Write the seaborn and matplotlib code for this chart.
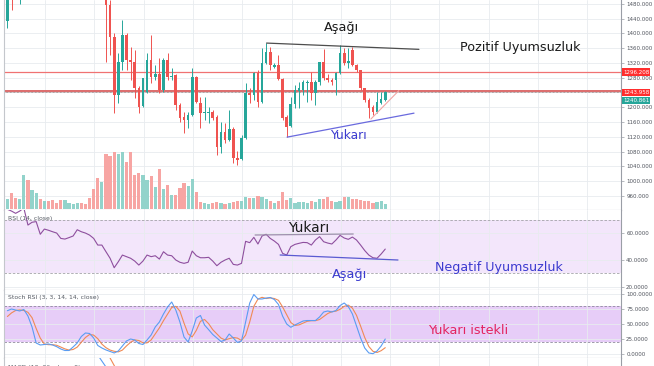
import matplotlib
matplotlib.use("Agg")
import matplotlib.pyplot as plt
import seaborn as sns
import numpy as np

sns.set_style("white")
plt.rcParams["font.family"] = ["DejaVu Sans"]

W, H = 654, 366
L, R = 4, 621

# daily candles (first ones sit above the visible range)
opens = [1434, 1520, 1530, 1505, 1535, 1570, 1550, 1565, 1580, 1555,
         1570, 1560, 1552, 1545, 1535, 1540, 1544, 1548, 1560, 1552,
         1545, 1530, 1512, 1500, 1515, 1477, 1390, 1233, 1323, 1396,
         1328, 1323, 1252, 1203, 1241, 1328, 1282, 1290, 1247, 1328,
         1282, 1287, 1206, 1174, 1165, 1179, 1282, 1211, 1184, 1184,
         1187, 1174, 1092, 1133, 1111, 1141, 1062, 1060, 1117, 1239,
         1233, 1293, 1214, 1320, 1350, 1309, 1315, 1277, 1174, 1149,
         1209, 1244, 1247, 1266, 1268, 1239, 1268, 1323, 1279, 1274,
         1274, 1293, 1347, 1320, 1355, 1315, 1301, 1252, 1220, 1201,
         1187, 1211, 1220]
highs = [1510, 1530, 1540, 1545, 1580, 1575, 1575, 1590, 1585, 1580,
         1575, 1565, 1556, 1550, 1545, 1548, 1552, 1565, 1562, 1555,
         1548, 1535, 1515, 1525, 1520, 1491, 1401, 1347, 1437, 1401,
         1363, 1355, 1258, 1279, 1347, 1396, 1315, 1334, 1334, 1347,
         1306, 1290, 1211, 1187, 1187, 1306, 1285, 1228, 1228, 1201,
         1193, 1179, 1160, 1157, 1193, 1146, 1081, 1125, 1266, 1252,
         1296, 1301, 1361, 1374, 1363, 1320, 1342, 1279, 1179, 1228,
         1260, 1268, 1274, 1274, 1296, 1274, 1323, 1358, 1290, 1279,
         1296, 1369, 1361, 1361, 1363, 1318, 1301, 1252, 1225, 1206,
         1241, 1241, 1244]
lows = [1414, 1464, 1500, 1480, 1525, 1540, 1545, 1555, 1545, 1550,
        1555, 1548, 1540, 1530, 1530, 1535, 1540, 1545, 1548, 1540,
        1525, 1505, 1495, 1496, 1323, 1342, 1184, 1211, 1301, 1301,
        1274, 1225, 1184, 1200, 1239, 1266, 1274, 1239, 1241, 1274,
        1274, 1193, 1160, 1130, 1144, 1177, 1211, 1144, 1165, 1157,
        1165, 1070, 1076, 1103, 1108, 1049, 1043, 1057, 1114, 1211,
        1220, 1201, 1211, 1318, 1301, 1306, 1274, 1165, 1119, 1146,
        1198, 1198, 1233, 1214, 1220, 1206, 1260, 1274, 1268, 1260,
        1233, 1290, 1315, 1306, 1312, 1296, 1247, 1214, 1171, 1179,
        1184, 1209, 1217]
closes = [1505, 1500, 1515, 1535, 1570, 1550, 1565, 1580, 1555, 1570,
          1560, 1552, 1545, 1535, 1540, 1544, 1548, 1560, 1552, 1545,
          1530, 1512, 1500, 1515, 1477, 1390, 1233, 1323, 1396, 1328,
          1323, 1252, 1201, 1279, 1328, 1282, 1290, 1247, 1328, 1282,
          1285, 1206, 1171, 1165, 1179, 1282, 1214, 1184, 1187, 1187,
          1171, 1092, 1133, 1111, 1141, 1062, 1057, 1117, 1239, 1233,
          1293, 1214, 1320, 1350, 1315, 1315, 1277, 1171, 1146, 1209,
          1247, 1252, 1268, 1268, 1239, 1268, 1323, 1279, 1274, 1268,
          1293, 1347, 1320, 1326, 1315, 1301, 1252, 1220, 1198, 1187,
          1214, 1222, 1240.861]
volume = [10, 16, 11, 10, 34, 29, 19, 16, 10, 8,
          8, 9, 6, 9, 9, 6, 5, 6, 6, 5,
          11, 20, 31, 27, 55, 53, 57, 55, 57, 47,
          57, 34, 36, 34, 29, 33, 22, 40, 20, 24,
          14, 14, 21, 26, 23, 30, 17, 7, 6, 5,
          6, 7, 6, 5, 6, 7, 8, 8, 12, 11,
          11, 13, 12, 10, 8, 6, 8, 17, 9, 11,
          6, 7, 7, 6, 8, 7, 10, 10, 12, 8,
          7, 8, 12, 12, 10, 10, 9, 8, 8, 6,
          7, 8, 5]

rsi = [78, 76.7, 75, 76.7, 79, 66.2, 68.3, 68.8, 59.3, 63.2,
       62.3, 61.2, 60.2, 56.2, 55.7, 56.8, 58, 62.7, 61.2, 60.2,
       58.7, 56.2, 51.2, 51.2, 46.2, 41.3, 34.2, 38.7, 43.7, 42.5,
       41.3, 39.2, 36.2, 39.2, 43.7, 42.5, 43.2, 40.7, 46.2, 43.7,
       43.2, 40, 38.3, 37.5, 38.3, 46.7, 43.2, 41.7, 41.7, 42,
       39.2, 35.7, 38.3, 40, 41.3, 36.7, 36.2, 37.5, 54, 53,
       57, 52, 58, 59.3, 56.2, 54.2, 51.7, 45, 43.7, 50,
       51.7, 52.5, 53.2, 53, 51.2, 55, 57.5, 53.7, 52.7, 52,
       55, 58.5, 56.5, 55.5, 57.2, 55, 51.2, 47.1, 43.7, 41.7,
       41.3, 44.5, 48.2]
stoch_k = [71.7, 74.5, 72.8, 71.2, 73.7, 62.8, 44.5, 17.8, 14.5, 15.3,
           16.2, 14.5, 11.7, 7.8, 5.3, 5.3, 11.2, 17.8, 28.7, 34.5,
           33.7, 26.2, 13.7, 9.5, 6.2, 3.7, 1.2, 4.5, 12.8, 21.2,
           24.5, 22.8, 17, 15.3, 22.8, 31.2, 44.5, 52.8, 66.2, 77.8,
           86.2, 72.8, 52.8, 27.8, 19.5, 37.8, 59.5, 63.7, 47.8, 40,
           32, 26.2, 20.3, 22.8, 32.8, 26.2, 18.7, 21.2, 52.8, 84.5,
           98.7, 91.2, 91.2, 92.8, 93.7, 90.3, 82, 62.8, 49.5, 44,
           47.8, 51.2, 54.5, 55.3, 55.3, 55.3, 61.2, 69.5, 71.2, 69.5,
           72, 80.3, 84.5, 78.7, 66.2, 46.2, 26.2, 9.5, 1.2, 0,
           4.5, 12.8, 24.5]
stoch_d = [62, 68, 72, 73, 72, 69, 60, 42, 26, 16,
           15, 15, 14, 11, 8, 6, 7, 11, 19, 27,
           32, 31, 25, 16, 10, 6, 4, 3, 6, 13,
           19, 23, 22, 18, 18, 23, 33, 43, 55, 66,
           77, 79, 71, 51, 33, 28, 39, 54, 57, 50,
           40, 33, 26, 23, 25, 27, 26, 22, 31, 53,
           79, 91, 94, 92, 93, 92, 89, 78, 65, 52,
           47, 48, 51, 54, 55, 55, 57, 62, 67, 70,
           71, 74, 79, 81, 76, 64, 46, 27, 12, 4,
           2, 5, 10]
macd_idx = [22, 23, 24, 25]
macd_line = [36.7, 23.3, 10, -3]
signal_idx = [24, 25, 26, 27]
signal_line = [46.7, 30, 13.3, -3.3]

level_hi, level_lo, last_price = 1296.208, 1243.958, 1240.861
price_ticks = list(range(960, 1481, 40))

UP, DOWN = "#26a69a", "#ef5350"
VOL_UP, VOL_DOWN = "#92d3cb", "#f7a5a3"
GRID = "#e8ebef"
AXIS = "#9a9ea6"
TICK_TXT = "#4f535c"
BLUE_TXT = "#3b3bcf"
TICK_FS = 4.0

fig = plt.figure(figsize=(W / 100, H / 100), dpi=100)


def pane(top, bottom):
    return fig.add_axes([L / W, 1 - bottom / H, (R - L) / W, (bottom - top) / H])


def style(ax, ticks, fmt, hidden=()):
    ax.set_xlim(-0.83, 149.4)
    ax.set_xticks(np.arange(9.2, 149, 12.0))
    ax.tick_params(axis="x", length=0, labelbottom=False)
    ax.yaxis.tick_right()
    ax.set_yticks(ticks)
    # labels sitting under the price boxes are not shown on the chart
    ax.set_yticklabels(["" if t in hidden else fmt.format(t) for t in ticks])
    ax.tick_params(axis="y", labelsize=TICK_FS, labelcolor=TICK_TXT, length=2.5,
                   width=0.5, color=AXIS, pad=1.2)
    ax.grid(True, color=GRID, lw=0.6)
    for s in ("left", "right", "top", "bottom"):
        ax.spines[s].set_color(AXIS)
        ax.spines[s].set_linewidth(0.8)
    ax.spines["left"].set_color("#c4c7cc")
    ax.spines["top"].set_visible(False)


idx = np.arange(len(opens))
o, h, lo, c = (np.array(v, dtype=float) for v in (opens, highs, lows, closes))
up = c >= o

# ---- price pane ----
ax = pane(0, 210)
ax.bar(idx, np.array(volume) / 210, bottom=0.004, width=0.78,
       color=np.where(up, VOL_UP, VOL_DOWN), lw=0,
       transform=ax.get_xaxis_transform(), zorder=1)
ax.vlines(idx, lo, h, colors=np.where(up, UP, DOWN), lw=0.7, zorder=3)
ax.bar(idx, np.maximum(np.abs(c - o), 2.2), bottom=np.minimum(o, c), width=0.64,
       color=np.where(up, UP, DOWN), lw=0, zorder=4)
ax.axhline(level_hi, color="#f07272", lw=0.9, zorder=2)
ax.axhline(level_lo, color="#d96060", lw=1.3, zorder=2)
ax.axhline(last_price, color="#7a5555", lw=0.5, ls=(0, (1, 1)), zorder=2)
ax.plot([63.1, 100.2], [1374, 1357], color="#4d4d4d", lw=0.9, zorder=5)
ax.plot([68.1, 99.0], [1119, 1184], color="#6a6ade", lw=0.9, zorder=5)
ax.plot([88.5, 95.3], [1168, 1245], color="#f2a6a6", lw=0.8, zorder=5)
style(ax, price_ticks, "{:.3f}", hidden=(1240,))
ax.set_ylim(921.4, 1490.8)
for val, ypix, fc in ((level_hi, 72, "#ff2e2e"), (level_lo, 92.2, "#ff2e2e"),
                      (last_price, 100.6, "#26a69a")):
    ax.text(1.003, 1 - ypix / 210, f"{val:.3f}", transform=ax.transAxes,
            ha="left", va="center", fontsize=TICK_FS, color="white",
            bbox=dict(boxstyle="square,pad=0.2", fc=fc, ec="none"),
            clip_on=False, zorder=10)

# ---- RSI pane ----
ax_r = pane(210, 290)
ax_r.axhspan(30, 70, color="#f3e6fb", lw=0, zorder=0)
for lvl in (30, 70):
    ax_r.axhline(lvl, color="#a3a3a8", lw=0.6, ls=(0, (3, 2)), zorder=1)
sns.lineplot(x=idx, y=rsi, ax=ax_r, color="#8e4f9e", lw=0.8, zorder=3)
ax_r.plot([60.3, 84.2], [58.75, 59.5], color="#9d90ac", lw=0.9, zorder=4)
ax_r.plot([66.4, 95.1], [43.75, 40], color="#5a5ad2", lw=0.9, zorder=4)
style(ax_r, [20, 40, 60], "{:.4f}")
ax_r.set_ylim(17.5, 77.5)
ax_r.text(0.006, 0.93, "RSI (14, close)", transform=ax_r.transAxes,
          fontsize=4.4, color="#555a63", va="top")

# ---- Stoch RSI pane ----
ax_s = pane(290, 358)
ax_s.axhspan(20, 80, color="#e7cdf8", lw=0, zorder=0)
for lvl in (20, 80):
    ax_s.axhline(lvl, color="#8f8a9e", lw=0.6, ls=(0, (3, 2)), zorder=1)
sns.lineplot(x=idx, y=stoch_d, ax=ax_s, color="#f08a55", lw=0.8, zorder=3)
sns.lineplot(x=idx, y=stoch_k, ax=ax_s, color="#5a9cf2", lw=0.8, zorder=4)
style(ax_s, [0, 25, 50, 75, 100], "{:.4f}")
ax_s.set_ylim(-7.2, 106.2)
ax_s.text(0.006, 0.93, "Stoch RSI (3, 3, 14, 14, close)", transform=ax_s.transAxes,
          fontsize=4.4, color="#555a63", va="top")

# ---- MACD pane (only a sliver shows) ----
ax_m = pane(358, 367)
sns.lineplot(x=macd_idx, y=macd_line, ax=ax_m, color="#5a9cf2", lw=0.8)
sns.lineplot(x=signal_idx, y=signal_line, ax=ax_m, color="#f08a55", lw=0.8)
style(ax_m, [], "{:.4f}")
ax_m.set_ylim(10, 30)
ax_m.text(0.006, 0.2, "MACD (12, 26, close, 9)", transform=ax_m.transAxes,
          fontsize=4.4, color="#555a63", va="top", clip_on=True)

# ---- hand-drawn notes ----
def note(txt, x, y, color, size):
    fig.text(x / W, 1 - y / H, txt, ha="center", va="center",
             color=color, fontsize=size, zorder=20)


note("Aşağı", 341.5, 28, "#1a1a1a", 9.2)
note("Pozitif Uyumsuzluk", 520.7, 48, "#1a1a1a", 9.2)
note("Yukarı", 348, 135, BLUE_TXT, 8.8)
note("Yukarı", 308.5, 228.5, "#1a1a1a", 9.9)
note("Aşağı", 349.5, 274.5, BLUE_TXT, 9.3)
note("Negatif Uyumsuzluk", 499, 267.5, BLUE_TXT, 9.1)
note("Yukarı istekli", 468, 331, "#e3245f", 9.2)

fig.savefig("out.png", dpi=100)
